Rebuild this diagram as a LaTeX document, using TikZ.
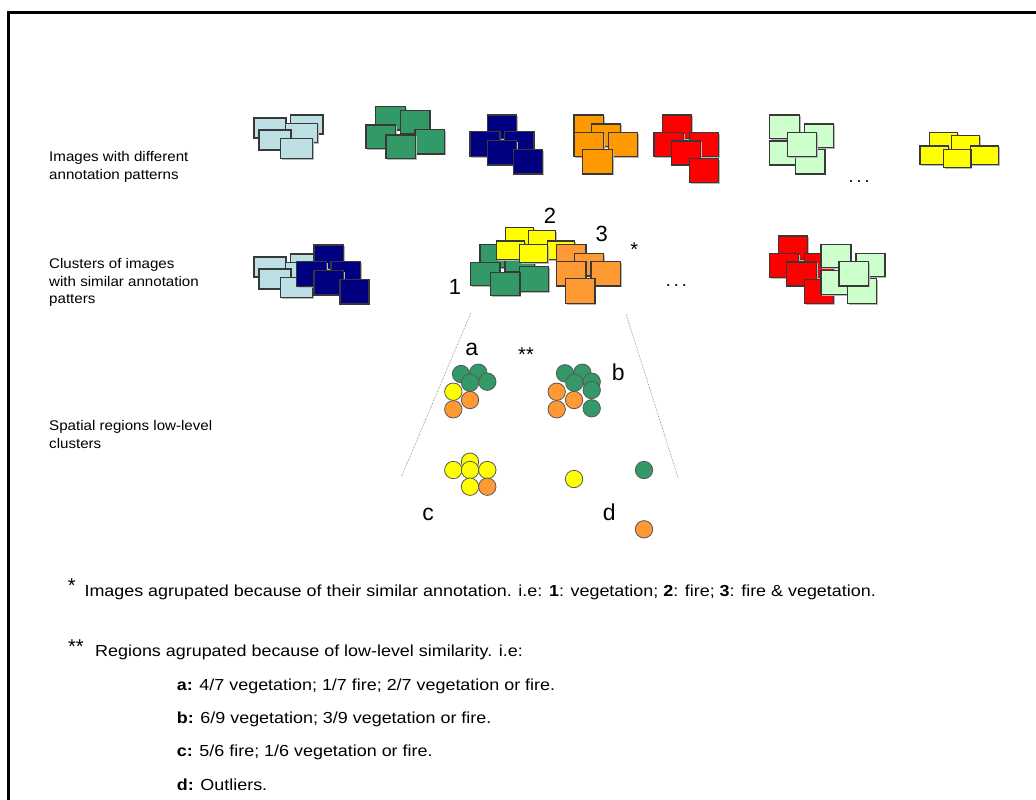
\documentclass[tikz,border=0pt]{standalone}
\usepackage{fontspec}
\setmainfont{Liberation Sans}
\definecolor{cLB}{HTML}{BCDFE3}
\definecolor{cG}{HTML}{339966}
\definecolor{cN}{HTML}{000080}
\definecolor{cO}{HTML}{FF9900}
\definecolor{cO2}{HTML}{FF9933}
\definecolor{cR}{HTML}{FF0000}
\definecolor{cL}{HTML}{CCFFCC}
\definecolor{cY}{HTML}{FFFF00}
\newcommand\bx[5]{\fill[boxshadow](#1,#2) rectangle (#3,#4);\filldraw[boxst,fill=#5](#1,#2) rectangle (#3,#4);}
\newcommand\cc[3]{\filldraw[dotst,fill=#3] (#1,#2) circle[radius=8.7];}
\newcommand\clLB{%
 \bx{254}{118}{286}{138}{cLB}\bx{290.7}{115}{323}{134}{cLB}\bx{285.7}{123.3}{317.7}{142.7}{cLB}%
 \bx{259}{130}{291}{150}{cLB}\bx{280.7}{138.3}{312.3}{158.3}{cLB}}
\newcommand\clG{%
 \bx{375.7}{106.7}{405.7}{130}{cG}\bx{400.7}{110.7}{430}{134}{cG}\bx{366}{125}{395.7}{148.3}{cG}%
 \bx{415}{129.3}{444.3}{154}{cG}\bx{386}{135}{415.7}{158.3}{cG}}
\newcommand\clN{%
 \bx{487.3}{115}{516.7}{138.3}{cN}\bx{470}{131.7}{500}{156.7}{cN}\bx{504.3}{131.7}{534}{156.7}{cN}%
 \bx{487.3}{140.7}{516.7}{165}{cN}\bx{513.3}{149.3}{542.3}{174}{cN}}
\newcommand\clO[1]{%
 \bx{574}{115}{603.3}{138.3}{#1}\bx{591.7}{124}{620.7}{146.7}{#1}\bx{574}{132.3}{603.3}{156.7}{#1}%
 \bx{608.3}{132.3}{637.7}{156.7}{#1}\bx{582.7}{149.3}{612.3}{174}{#1}}
\newcommand\clR{%
 \bx{662.7}{115}{691.7}{138.3}{cR}\bx{654}{132.3}{683.3}{156.7}{cR}\bx{689.3}{132.3}{718.3}{156.7}{cR}%
 \bx{671.3}{141}{700.7}{165}{cR}\bx{689.3}{158.3}{718.3}{182.3}{cR}}
\newcommand\clL{%
 \bx{769.3}{115}{799.3}{138.3}{cL}\bx{804.3}{124}{833.3}{147.3}{cL}\bx{769.3}{141}{799.3}{165}{cL}%
 \bx{795.7}{149.3}{825}{174}{cL}\bx{787.3}{132.3}{816.7}{156.7}{cL}}
\newcommand\clY{%
 \bx{929.3}{132.3}{957.3}{150}{cY}\bx{951.7}{135.7}{979.3}{153.3}{cY}\bx{920}{146}{948.3}{164.3}{cY}%
 \bx{970.7}{146}{998.3}{164.3}{cY}\bx{943.3}{149.3}{971}{167.3}{cY}}
\begin{document}
\begin{tikzpicture}[x=1pt,y=-1pt,
  boxst/.style={draw=black!78, line width=1.1pt},
  boxshadow/.style={fill=black!28, shift={(1.4,1.4)}},
  dotst/.style={draw=black!65, line width=0.8pt},
  rowlbl/.style={anchor=base west, inner sep=0, xscale=1.08, font=\fontsize{14}{17}\selectfont},
  note/.style={anchor=base west, inner sep=0, xscale=1.12, font=\fontsize{16}{18}\selectfont},
  big/.style={anchor=base, inner sep=0, font=\fontsize{22}{24}\selectfont},
  bigl/.style={anchor=base, inner sep=0, font=\fontsize{23}{25}\selectfont},
  star/.style={anchor=base, inner sep=0, font=\fontsize{20}{22}\selectfont},
  dots/.style={anchor=base, inner sep=0, font=\fontsize{18}{20}\selectfont},
  funnel/.style={draw=black!55, line width=0.6pt, densely dotted}]
\fill[white] (0,0) rectangle (1036,800);
\useasboundingbox (0,0) rectangle (1036,800);
\draw[line width=2.6pt] (8.7,805) -- (8.7,12.8) -- (1040,12.8);
% row 1
\clLB \clG \clN \clO{cO} \clR \clL \clY
\node[dots] (dots1) at (859,182.5) {.\,.\,.};
% row 2
\begin{scope}[shift={(0,139)}]\clLB\end{scope}
\begin{scope}[shift={(-173.3,130)}]\clN\end{scope}
\begin{scope}[shift={(104.3,137.6)}]\clG\end{scope}
\begin{scope}[shift={(-423.6,95)}]\clY\end{scope}
\begin{scope}[shift={(-17.3,129.3)}]\clO{cO2}\end{scope}
\begin{scope}[shift={(115.6,121)}]\clR\end{scope}
\begin{scope}[shift={(51.7,129.3)}]\clL\end{scope}
\node[dots] (dots2) at (676.3,286.8) {.\,.\,.};
\node[big] (n1) at (455,294) {1};
\node[big] (n2) at (550,223.3) {2};
\node[big] (n3) at (601.7,241) {3};
\node[star] (st1) at (634.3,256) {*};
% funnel
\coordinate (fl1) at (470.7,313.3);
\coordinate (fl2) at (401.7,476);
\coordinate (fr1) at (626,314);
\coordinate (fr2) at (678.3,478.3);
\draw[funnel] (fl1) -- (fl2);
\draw[funnel] (fr1) -- (fr2);
% region clusters
\cc{461}{374}{cG}\cc{478.3}{372.7}{cG}\cc{470}{382.7}{cG}\cc{487.3}{381.7}{cG}
\cc{453.3}{391.7}{cY}\cc{470}{400}{cO2}\cc{453.3}{409.3}{cO2}
\cc{565}{373.3}{cG}\cc{582.3}{372.7}{cG}\cc{574.3}{382.7}{cG}\cc{591.7}{381.7}{cG}\cc{591.7}{390}{cG}\cc{591.7}{408.3}{cG}
\cc{556.7}{391.7}{cO2}\cc{574}{400}{cO2}\cc{556.7}{409.3}{cO2}
\cc{470}{461.7}{cY}\cc{453.3}{470}{cY}\cc{470}{470}{cY}\cc{487.3}{470}{cY}\cc{470}{486.7}{cY}\cc{487.3}{486.7}{cO2}
\cc{574}{479}{cY}\cc{644}{470}{cG}\cc{644}{529.3}{cO2}
\node[bigl] (la) at (471.7,355) {a};
\node[star] (st2) at (526,361) {**};
\node[bigl] (lb) at (618.3,380.7) {b};
\node[bigl] (lc) at (428,520) {c};
\node[bigl] (ld) at (609.3,520) {d};
% row labels
\node[rowlbl] (r1a) at (49,161.3) {Images with different};
\node[rowlbl] (r1b) at (49,179.3) {annotation patterns};
\node[rowlbl] (r2a) at (49,268.3) {Clusters of images};
\node[rowlbl] (r2b) at (49,286) {with similar annotation};
\node[rowlbl] (r2c) at (49,303.5) {patters};
\node[rowlbl] (r3a) at (49,430.3) {Spatial regions low-level};
\node[rowlbl] (r3b) at (49,448.3) {clusters};
% notes
\node[star] (st3) at (71.7,592) {*};
\node[note] (t1) at (84.3,596) {Images agrupated because of their similar annotation. i.e: \textbf{1}: vegetation; \textbf{2}: fire; \textbf{3}: fire \& vegetation.};
\node[star] (st4) at (75.8,653) {**};
\node[note] (t2) at (95,656.7) {Regions agrupated because of low-level similarity. i.e:};
\node[note] (ta) at (176.7,690.3) {\textbf{a:} 4/7 vegetation; 1/7 fire; 2/7 vegetation or fire.};
\node[note] (tb) at (176.7,723.3) {\textbf{b:} 6/9 vegetation; 3/9 vegetation or fire.};
\node[note] (tc) at (176.7,756.8) {\textbf{c:} 5/6 fire; 1/6 vegetation or fire.};
\node[note] (td) at (176.7,790.3) {\textbf{d:} Outliers.};
\end{tikzpicture}
\end{document}
